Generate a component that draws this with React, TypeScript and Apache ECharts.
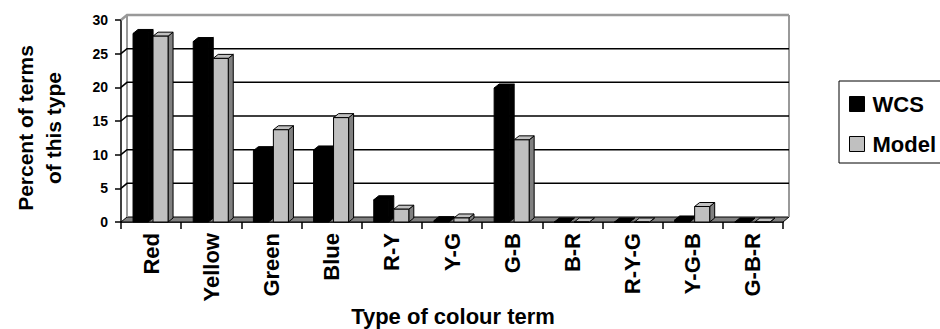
import React, { useEffect, useRef } from "react";
import * as echarts from "echarts";

const categories = ["Red", "Yellow", "Green", "Blue", "R-Y", "Y-G", "G-B", "B-R", "R-Y-G", "Y-G-B", "G-B-R"];
const wcsValues = [28, 26.8, 10.6, 10.7, 3.3, 0.2, 19.9, 0, 0, 0.3, 0];
const modelValues = [27.6, 24.3, 13.7, 15.5, 1.9, 0.6, 12.2, 0, 0, 2.3, 0];
const gridValues = [0, 5, 10, 15, 20, 25, 30];

const FONT = "'Liberation Sans', Arial, sans-serif";
const WALL_DX = 6;
const WALL_DY = 5;
const BAR_DX = 5;
const BAR_DY = 4;

function makeBarRender(offsetFrac: number, front: string, top: string, side: string) {
  return (params: any, api: any) => {
    const i = api.value(0);
    const v = api.value(1);
    const p = api.coord([i, v]);
    const base = api.coord([i, 0])[1];
    const band = api.size([1, 0])[0];
    const w = band * 0.25;
    const x = p[0] - band / 2 + band * offsetFrac;
    const t = p[1];
    const stroke = { stroke: "#000", lineWidth: 1 };
    return {
      type: "group",
      children: [
        {
          type: "polygon",
          shape: { points: [[x + w, t], [x + w + BAR_DX, t - BAR_DY], [x + w + BAR_DX, base - BAR_DY], [x + w, base]] },
          style: { fill: side, ...stroke },
        },
        {
          type: "polygon",
          shape: { points: [[x, t], [x + BAR_DX, t - BAR_DY], [x + w + BAR_DX, t - BAR_DY], [x + w, t]] },
          style: { fill: top, ...stroke },
        },
        {
          type: "rect",
          shape: { x, y: t, width: w, height: base - t },
          style: { fill: front, ...stroke },
        },
      ],
    };
  };
}

export default function App() {
  const ref = useRef<HTMLDivElement>(null);
  useEffect(() => {
    if (!ref.current) return;
    const chart = echarts.init(ref.current, null, { renderer: "svg" });
    const option: any = {
      animation: false,
      backgroundColor: "#fff",
      textStyle: { fontFamily: FONT },
      grid: { left: 121, right: 157, top: 20, bottom: 107, containLabel: false },
      legend: {
        orient: "vertical",
        left: 839,
        top: 81,
        padding: [11, 20, 7, 10],
        itemGap: 16,
        itemWidth: 15,
        itemHeight: 15,
        borderColor: "#000",
        borderWidth: 1,
        backgroundColor: "#fff",
        textStyle: { fontFamily: FONT, fontWeight: "bold", fontSize: 22, color: "#000", lineHeight: 24, padding: [0, 0, 0, 3] },
        data: [
          { name: "WCS", icon: "rect", itemStyle: { color: "#000", borderColor: "#000", borderWidth: 1 } },
          { name: "Model", icon: "rect", itemStyle: { color: "#c0c0c0", borderColor: "#000", borderWidth: 1 } },
        ],
      },
      xAxis: {
        type: "category",
        data: categories,
        axisLine: { show: true, lineStyle: { color: "#000", width: 1.5 } },
        axisTick: { show: true, length: 7, lineStyle: { color: "#000", width: 1.5 } },
        axisLabel: { rotate: 90, margin: 11, color: "#000", fontFamily: FONT, fontWeight: "bold", fontSize: 22 },
        splitLine: { show: false },
      },
      yAxis: {
        type: "value",
        min: 0,
        max: 30,
        interval: 5,
        axisLine: { show: true, lineStyle: { color: "#000", width: 1.5 } },
        axisTick: { show: true, length: 6, lineStyle: { color: "#000", width: 1.5 } },
        axisLabel: { margin: 13, color: "#000", fontFamily: FONT, fontWeight: "bold", fontSize: 14 },
        splitLine: { show: false },
      },
      graphic: [
        {
          type: "text",
          x: 39,
          y: 128,
          rotation: Math.PI / 2,
          style: {
            text: "Percent of terms\nof this type",
            font: `bold 21px ${FONT}`,
            fill: "#000",
            align: "center",
            verticalAlign: "middle",
            lineHeight: 28,
          },
        },
        {
          type: "text",
          x: 453,
          y: 316,
          style: {
            text: "Type of colour term",
            font: `bold 22px ${FONT}`,
            fill: "#000",
            align: "center",
            verticalAlign: "middle",
          },
        },
      ],
      series: [
        {
          type: "custom",
          name: "wall",
          silent: true,
          z: 1,
          data: gridValues.map((g) => [0, g]),
          renderItem: (params: any, api: any) => {
            const cs = params.coordSys;
            const x0 = cs.x;
            const x1 = cs.x + cs.width;
            const v = api.value(1);
            const y = api.coord([0, v])[1];
            const yb = y - WALL_DY;
            if (v === 0) {
              const top = api.coord([0, 30])[1] - WALL_DY;
              return {
                type: "group",
                children: [
                  {
                    type: "polygon",
                    shape: { points: [[x0, y], [x0 + WALL_DX, yb], [x1 + WALL_DX, yb], [x1, y]] },
                    style: { fill: "#808080", stroke: "#000", lineWidth: 1 },
                  },
                  {
                    type: "line",
                    shape: { x1: x0 + WALL_DX, y1: top, x2: x0 + WALL_DX, y2: yb },
                    style: { stroke: "#999", lineWidth: 2 },
                  },
                  {
                    type: "line",
                    shape: { x1: x1 + WALL_DX, y1: top, x2: x1 + WALL_DX, y2: yb },
                    style: { stroke: "#999", lineWidth: 2 },
                  },
                ],
              };
            }
            const isTop = v === 30;
            return {
              type: "polyline",
              shape: { points: [[x0, y], [x0 + WALL_DX, yb], [x1 + WALL_DX, yb]] },
              style: { fill: "none", stroke: isTop ? "#999" : "#000", lineWidth: isTop ? 2.5 : 1.5 },
            };
          },
        },
        {
          type: "custom",
          name: "WCS",
          z: 3,
          itemStyle: { color: "#000" },
          data: wcsValues.map((v, i) => [i, v]),
          encode: { x: 0, y: 1 },
          renderItem: makeBarRender(0.2, "#000", "#000", "#000"),
        },
        {
          type: "custom",
          name: "Model",
          z: 4,
          itemStyle: { color: "#c0c0c0" },
          data: modelValues.map((v, i) => [i, v]),
          encode: { x: 0, y: 1 },
          renderItem: makeBarRender(0.532, "#c0c0c0", "#c0c0c0", "#808080"),
        },
      ],
    };
    chart.setOption(option);
    return () => chart.dispose();
  }, []);
  return <div ref={ref} style={{ position: "absolute", left: 0, top: 0, width: 940, height: 329 }} />;
}
